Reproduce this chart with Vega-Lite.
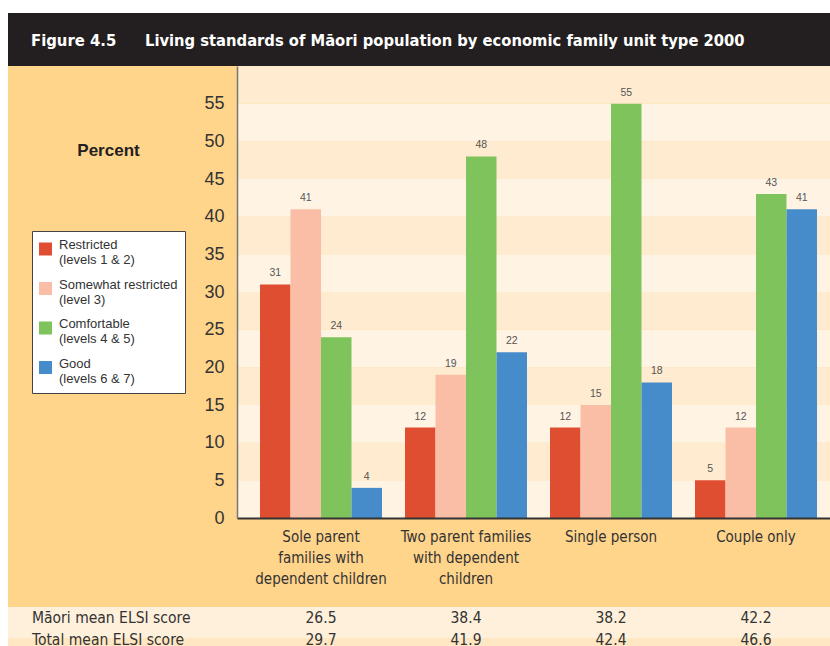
{
  "$schema": "https://vega.github.io/schema/vega-lite/v6.json",
  "width": 593,
  "height": 452,
  "autosize": {"type": "none"},
  "padding": {"left": 237, "top": 66, "right": 0, "bottom": 128},
  "background": "white",
  "config": {"view": {"stroke": null}, "font": "Liberation Sans"},
  "datasets": {
    "bars": [
      {"group": "Sole parent families with dependent children", "level": "Restricted", "pct": 31},
      {"group": "Sole parent families with dependent children", "level": "Somewhat restricted", "pct": 41},
      {"group": "Sole parent families with dependent children", "level": "Comfortable", "pct": 24},
      {"group": "Sole parent families with dependent children", "level": "Good", "pct": 4},
      {"group": "Two parent families with dependent children", "level": "Restricted", "pct": 12},
      {"group": "Two parent families with dependent children", "level": "Somewhat restricted", "pct": 19},
      {"group": "Two parent families with dependent children", "level": "Comfortable", "pct": 48},
      {"group": "Two parent families with dependent children", "level": "Good", "pct": 22},
      {"group": "Single person", "level": "Restricted", "pct": 12},
      {"group": "Single person", "level": "Somewhat restricted", "pct": 15},
      {"group": "Single person", "level": "Comfortable", "pct": 55},
      {"group": "Single person", "level": "Good", "pct": 18},
      {"group": "Couple only", "level": "Restricted", "pct": 5},
      {"group": "Couple only", "level": "Somewhat restricted", "pct": 12},
      {"group": "Couple only", "level": "Comfortable", "pct": 43},
      {"group": "Couple only", "level": "Good", "pct": 41}
    ],
    "table": [
      {"group": "Sole parent families with dependent children", "row": "Māori mean ELSI score", "score": 26.5},
      {"group": "Two parent families with dependent children", "row": "Māori mean ELSI score", "score": 38.4},
      {"group": "Single person", "row": "Māori mean ELSI score", "score": 38.2},
      {"group": "Couple only", "row": "Māori mean ELSI score", "score": 42.2},
      {"group": "Sole parent families with dependent children", "row": "Total mean ELSI score", "score": 29.7},
      {"group": "Two parent families with dependent children", "row": "Total mean ELSI score", "score": 41.9},
      {"group": "Single person", "row": "Total mean ELSI score", "score": 42.4},
      {"group": "Couple only", "row": "Total mean ELSI score", "score": 46.6}
    ],
    "rows": [
      {"row": "Māori mean ELSI score", "shade": "light"},
      {"row": "Total mean ELSI score", "shade": "dark"}
    ],
    "bands": [
      {"lo": 0, "hi": 5, "shade": "light"},
      {"lo": 5, "hi": 10, "shade": "dark"},
      {"lo": 10, "hi": 15, "shade": "light"},
      {"lo": 15, "hi": 20, "shade": "dark"},
      {"lo": 20, "hi": 25, "shade": "light"},
      {"lo": 25, "hi": 30, "shade": "dark"},
      {"lo": 30, "hi": 35, "shade": "light"},
      {"lo": 35, "hi": 40, "shade": "dark"},
      {"lo": 40, "hi": 45, "shade": "light"},
      {"lo": 45, "hi": 50, "shade": "dark"},
      {"lo": 50, "hi": 55, "shade": "light"},
      {"lo": 55, "hi": 60, "shade": "dark"}
    ],
    "heading": [
      {"fig": "Figure 4.5", "title": "Living standards of Māori population by economic family unit type 2000"}
    ]
  },
  "resolve": {"scale": {"y": "independent"}},
  "layer": [
    {
      "data": {"name": "heading"},
      "mark": {"type": "rect", "fill": "#FFD48B"},
      "encoding": {"x": {"value": -229}, "x2": {"value": 593}, "y": {"value": 0}, "y2": {"value": 541}}
    },
    {
      "data": {"name": "heading"},
      "mark": {"type": "rect", "fill": "#231F20"},
      "encoding": {"x": {"value": -229}, "x2": {"value": 593}, "y": {"value": -53}, "y2": {"value": 0}}
    },
    {
      "data": {"name": "heading"},
      "mark": {"type": "text", "x": -206, "y": -25, "align": "left", "baseline": "middle", "font": "DejaVu Sans Condensed, Liberation Sans", "fontWeight": "bold", "fontSize": 16.5, "fill": "white"},
      "encoding": {"text": {"field": "fig"}}
    },
    {
      "data": {"name": "heading"},
      "mark": {"type": "text", "x": -92, "y": -25, "align": "left", "baseline": "middle", "font": "DejaVu Sans Condensed, Liberation Sans", "fontWeight": "bold", "fontSize": 16.4, "fill": "white"},
      "encoding": {"text": {"field": "title"}}
    },
    {
      "data": {"name": "bands"},
      "mark": {"type": "rect"},
      "encoding": {
        "y": {"field": "lo", "type": "quantitative", "scale": {"domain": [0, 60]}, "axis": null},
        "y2": {"field": "hi"},
        "fill": {"condition": {"test": "datum.shade == 'dark'", "value": "#FFEBCF"}, "value": "#FFF3E4"}
      }
    },
    {
      "data": {"name": "bars"},
      "mark": {"type": "bar"},
      "encoding": {
        "x": {
          "field": "group", "type": "nominal", "sort": null,
          "scale": {"domain": ["Sole parent families with dependent children", "Two parent families with dependent children", "Single person", "Couple only"], "paddingInner": 0.1586, "paddingOuter": 0.1241, "align": 0.639},
          "axis": {
            "title": null, "ticks": false, "domainColor": "#333", "domainWidth": 2, "zindex": 1,
            "labelFont": "DejaVu Sans Condensed, Liberation Sans", "labelFontSize": 15, "labelColor": "#333", "labelPadding": 11, "labelLineHeight": 21, "labelAngle": 0, "labelLimit": 300,
            "labelExpr": "datum.value == 'Sole parent families with dependent children' ? ['Sole parent', 'families with', 'dependent children'] : datum.value == 'Two parent families with dependent children' ? ['Two parent families', 'with dependent', 'children'] : datum.value"
          }
        },
        "xOffset": {"field": "level", "type": "nominal", "scale": {"domain": ["Restricted", "Somewhat restricted", "Comfortable", "Good"], "paddingInner": 0, "paddingOuter": 0}},
        "y": {
          "field": "pct", "type": "quantitative", "scale": {"domain": [0, 60]},
          "axis": {
            "title": "Percent", "titleX": -129, "titleY": 84, "titleAngle": 0, "titleAlign": "center", "titleBaseline": "middle",
            "titleFontSize": 17, "titleFontWeight": "bold", "titleColor": "#231F20", "zindex": 1,
            "values": [0, 5, 10, 15, 20, 25, 30, 35, 40, 45, 50, 55], "ticks": false, "grid": false,
            "domainColor": "#777", "domainWidth": 1.5, "labelFontSize": 18, "labelColor": "#333", "labelPadding": 13
          }
        },
        "color": {
          "field": "level", "type": "nominal",
          "scale": {"domain": ["Restricted", "Somewhat restricted", "Comfortable", "Good"], "range": ["#E04E31", "#FABEA7", "#7EC35C", "#478CCA"]},
          "legend": {
            "title": " ", "titleFontSize": 1, "titlePadding": 3.5, "orient": "none", "legendX": -205, "legendY": 165,
            "fillColor": "white", "strokeColor": "#444", "padding": 7,
            "symbolType": "square", "symbolSize": 169, "symbolStrokeWidth": 0, "symbolOpacity": 1,
            "labelFontSize": 13, "labelColor": "#333", "labelLineHeight": 16, "labelBaseline": "alphabetic", "labelLimit": 300, "labelOffset": 7, "rowPadding": 10.5,
            "labelExpr": "datum.value == 'Restricted' ? ['Restricted', '(levels 1 & 2)'] : datum.value == 'Somewhat restricted' ? ['Somewhat restricted', '(level 3)'] : datum.value == 'Comfortable' ? ['Comfortable', '(levels 4 & 5)'] : ['Good', '(levels 6 & 7)']"
          }
        }
      }
    },
    {
      "data": {"name": "bars"},
      "mark": {"type": "text", "baseline": "middle", "dy": -11, "fontSize": 10.5, "fill": "#555"},
      "encoding": {
        "x": {"field": "group", "type": "nominal", "sort": null},
        "xOffset": {"field": "level", "type": "nominal"},
        "y": {"field": "pct", "type": "quantitative", "scale": {"domain": [0, 60]}, "axis": null},
        "text": {"field": "pct", "type": "quantitative"}
      }
    },
    {
      "data": {"name": "rows"},
      "mark": {"type": "rect"},
      "encoding": {
        "x": {"value": -229}, "x2": {"value": 593},
        "y": {"field": "row", "type": "nominal", "scale": {"domain": ["Māori mean ELSI score", "Total mean ELSI score"], "range": [541, 603], "paddingInner": 0, "paddingOuter": 0}, "axis": null},
        "fill": {"condition": {"test": "datum.shade == 'dark'", "value": "#FFE7C3"}, "value": "#FFF0DC"}
      }
    },
    {
      "data": {"name": "table"},
      "mark": {"type": "text", "baseline": "middle", "fontSize": 15.5, "font": "DejaVu Sans Condensed, Liberation Sans", "fill": "#333"},
      "encoding": {
        "x": {"field": "group", "type": "nominal", "sort": null},
        "y": {"field": "row", "type": "nominal", "scale": {"domain": ["Māori mean ELSI score", "Total mean ELSI score"], "range": [552, 574], "padding": 0}, "axis": null},
        "text": {"field": "score", "type": "quantitative", "format": ".1f"}
      }
    },
    {
      "data": {"name": "rows"},
      "mark": {"type": "text", "x": -205, "align": "left", "baseline": "middle", "fontSize": 15.5, "font": "DejaVu Sans Condensed, Liberation Sans", "fill": "#333"},
      "encoding": {
        "y": {"field": "row", "type": "nominal", "scale": {"domain": ["Māori mean ELSI score", "Total mean ELSI score"], "range": [552, 574], "padding": 0}, "axis": null},
        "text": {"field": "row"}
      }
    }
  ]
}
